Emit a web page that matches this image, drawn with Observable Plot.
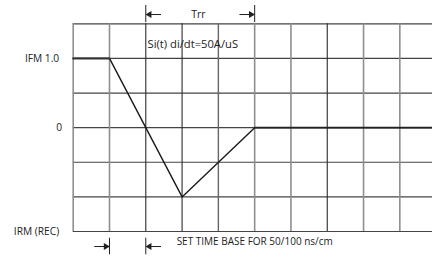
<!DOCTYPE html>
<html>
<head>
<meta charset="utf-8">
<script src="https://cdn.jsdelivr.net/npm/d3@7"></script>
<script src="https://cdn.jsdelivr.net/npm/@observablehq/plot@0.6"></script>
<style>
  html, body { margin: 0; padding: 0; background: #fff; }
  svg { display: block; }
</style>
</head>
<body>
<div id="chart"></div>
<script>
// Waveform (time in grid divisions, current relative to IFM)
const timeSteps = [0, 1, 3, 5, 9.9];
const current = [1, 1, -1, 0, 0];

// Grid
const gridX = [0, 1, 2, 3, 4, 5, 6, 7, 8, 9];
const gridXTone = ["light", "light", "dark", "dark", "mid", "light", "light", "dark", "light", "light"];
const gridY = [-1.5, -1, -0.5, 0, 0.5, 1, 1.5];

// Y tick labels
const yTicks = [1, 0, -1.5];
const yTickLabels = ["IFM 1.0", "0", "IRM (REC)"];

// Annotations
const trrStart = 2, trrEnd = 5, trrLabel = "Trr", trrY = 1.634;
const slopeLabel = "Si(t) di/dt=50A/uS", slopeX = 2.05, slopeY = 1.2;
const baseStart = 1, baseEnd = 2, baseY = -1.717;
const baseLabel = "SET TIME BASE FOR 50/100 ns/cm", baseLabelX = 2.85;

const wave = timeSteps.map((t, i) => ({t, v: current[i]}));
const toneColor = {light: "#8f8f8f", mid: "#666", dark: "#2a2a2a"};
const toneWidth = {light: 1.6, mid: 1.4, dark: 1.1};
const vLines = gridX.map((x, i) => ({x, tone: gridXTone[i]}));
const ticks = yTicks.map((v, i) => ({v, label: yTickLabels[i]}));

const font = "Open Sans, sans-serif";
const arrowLen = 0.42;
const tickHalf = 0.11;

const chart = Plot.plot({
  width: 432,
  height: 257,
  marginLeft: 72.7,
  marginRight: 0,
  marginTop: 23.3,
  marginBottom: 26,
  style: {fontFamily: font, fontSize: "10px", color: "#222", background: "#fff"},
  x: {domain: [0, 9.9], axis: null},
  y: {domain: [-1.5, 1.5], axis: null},
  marks: [
    Plot.ruleY(gridY, {y: d => d, stroke: "#444", strokeWidth: 1.2}),
    Plot.ruleX(vLines, {x: "x", stroke: d => toneColor[d.tone], strokeWidth: d => toneWidth[d.tone]}),
    Plot.line(wave, {x: "t", y: "v", stroke: "#1a1a1a", strokeWidth: 1.4}),
    Plot.line(wave.slice(0, 2), {x: "t", y: "v", stroke: "#333", strokeWidth: 2}),
    Plot.line(wave.slice(3), {x: "t", y: "v", stroke: "#222", strokeWidth: 1.8}),
    // y labels
    Plot.text(ticks.filter(d => d.v !== 0), {x: 0, y: "v", text: "label", textAnchor: "end", dx: -14, fontSize: 10.2, fill: "#222", clip: false}),
    Plot.text(ticks.filter(d => d.v === 0), {x: 0, y: "v", text: "label", textAnchor: "end", dx: -11, fontSize: 10.2, fill: "#222", clip: false}),
    // Trr annotation
    Plot.ruleX([trrStart, trrEnd], {x: d => d, y1: trrY - tickHalf * 0.8 - 0.03, y2: trrY + tickHalf + 0.02, stroke: "#222", strokeWidth: 1, clip: false}),
    Plot.link([{x1: trrStart + arrowLen, x2: trrStart + 0.05}, {x1: trrEnd - arrowLen, x2: trrEnd - 0.05}],
      {x1: "x1", x2: "x2", y1: trrY, y2: trrY, stroke: "#222", strokeWidth: 1, clip: false}),
    Plot.dot([{x: trrStart + 0.1, r: -90}, {x: trrEnd - 0.1, r: 90}],
      {x: "x", y: trrY, symbol: "triangle", r: 2.6, rotate: "r", fill: "#222", stroke: "none", clip: false}),
    Plot.text([trrLabel], {x: (trrStart + trrEnd) / 2 - 0.05, y: trrY, text: d => d, fontSize: 10.5, fill: "#222", clip: false}),
    Plot.text([slopeLabel], {x: slopeX, y: slopeY, text: d => d, textAnchor: "start", fontSize: 11.2, fill: "#222"}),
    // Time base annotation
    Plot.ruleX([baseStart, baseEnd], {x: d => d, y1: baseY - tickHalf - 0.01, y2: baseY + tickHalf + 0.01, stroke: "#222", strokeWidth: 1, clip: false}),
    Plot.link([{x1: baseStart - arrowLen, x2: baseStart - 0.05}, {x1: baseEnd + arrowLen, x2: baseEnd + 0.05}],
      {x1: "x1", x2: "x2", y1: baseY, y2: baseY, stroke: "#222", strokeWidth: 1, clip: false}),
    Plot.dot([{x: baseStart - 0.1, r: 90}, {x: baseEnd + 0.1, r: -90}],
      {x: "x", y: baseY, symbol: "triangle", r: 2.6, rotate: "r", fill: "#222", stroke: "none", clip: false}),
    Plot.text([baseLabel], {x: baseLabelX, y: baseY + 0.075, text: d => d, textAnchor: "start", fontSize: 10, fill: "#222", clip: false})
  ]
});
document.getElementById("chart").appendChild(chart);
</script>
</body>
</html>
